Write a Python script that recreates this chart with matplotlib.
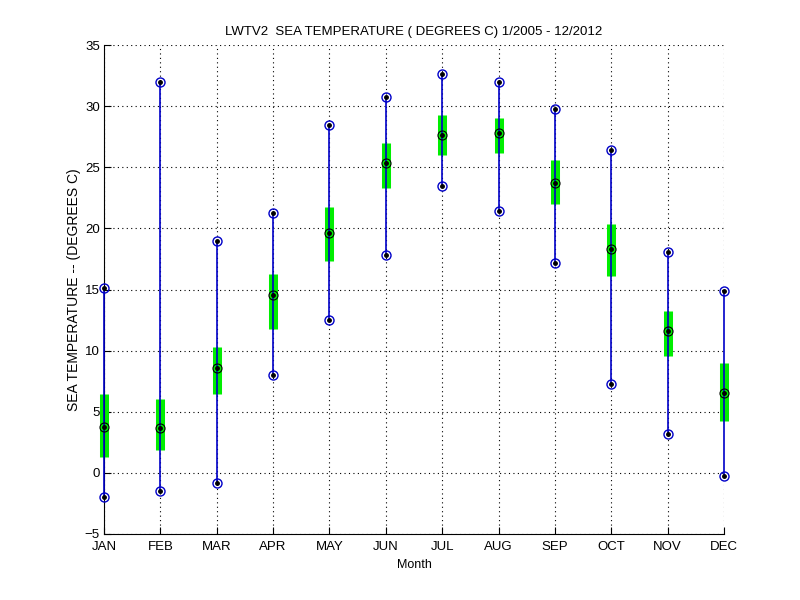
import numpy as np
import matplotlib
matplotlib.use("Agg")
import matplotlib.pyplot as plt

plt.rcParams['font.family'] = ['Liberation Sans', 'DejaVu Sans']

months = ["JAN", "FEB", "MAR", "APR", "MAY", "JUN", "JUL", "AUG", "SEP", "OCT", "NOV", "DEC"]
t_max = [15.15, 31.95, 19.0, 21.23, 28.42, 30.72, 32.63, 31.95, 29.76, 26.4, 18.03, 14.84]
q_hi = [6.45, 6.04, 10.3, 16.27, 21.75, 26.95, 29.28, 29.06, 25.6, 20.36, 13.22, 8.97]
t_med = [3.73, 3.65, 8.55, 14.55, 19.62, 25.32, 27.62, 27.78, 23.68, 18.28, 11.59, 6.56]
q_lo = [1.32, 1.9, 6.48, 11.8, 17.36, 23.33, 26.03, 26.2, 21.97, 16.13, 9.57, 4.25]
t_min = [-2.0, -1.5, -0.86, 7.98, 12.48, 17.8, 23.47, 21.4, 17.14, 7.3, 3.14, -0.23]

x = np.arange(1, 13)

fig = plt.figure(figsize=(8, 6), dpi=100)
ax = fig.add_axes([0.13, 0.11, 0.775, 0.815])

blue = '#0000c8'
green = '#00ee00'

for i in range(12):
    ax.plot([x[i], x[i]], [q_lo[i], q_hi[i]], color=green, linewidth=6.5,
            solid_capstyle='butt', clip_on=False, zorder=2)
    ax.plot([x[i], x[i]], [t_min[i], t_max[i]], color=blue, linewidth=1.2,
            clip_on=False, zorder=3)

ax.plot(x, t_max, 'o', color=blue, mfc='none', ms=6.5, mew=1.0, clip_on=False, zorder=4)
ax.plot(x, t_min, 'o', color=blue, mfc='none', ms=6.5, mew=1.0, clip_on=False, zorder=4)
ax.plot(x, t_med, 'o', color='k', mfc='none', ms=6.5, mew=0.8, clip_on=False, zorder=4)
for vals in (t_max, t_min, t_med):
    ax.plot(x, vals, '.', color='k', ms=5, clip_on=False, zorder=5)

ax.set_xlim(1, 12)
ax.set_ylim(-5, 35)
ax.set_xticks(x)
ax.set_xticklabels(months)
ax.set_yticks(np.arange(-5, 36, 5))
ax.tick_params(direction='in', length=5, labelsize=9.5, top=False, right=False)
ax.tick_params(axis='x', pad=5)
ax.tick_params(axis='y', pad=3)
ax.grid(True, linestyle=(0, (1, 3)), color='k', linewidth=0.8)
ax.spines['top'].set_visible(False)
ax.spines['right'].set_visible(False)

ax.set_title("LWTV2  SEA TEMPERATURE ( DEGREES C) 1/2005 - 12/2012", fontsize=9.5, pad=7)
ax.set_xlabel("Month", fontsize=9, labelpad=4)
ax.set_ylabel("SEA TEMPERATURE -- (DEGREES C)", fontsize=10, labelpad=3)

fig.savefig("out.png", dpi=100)
